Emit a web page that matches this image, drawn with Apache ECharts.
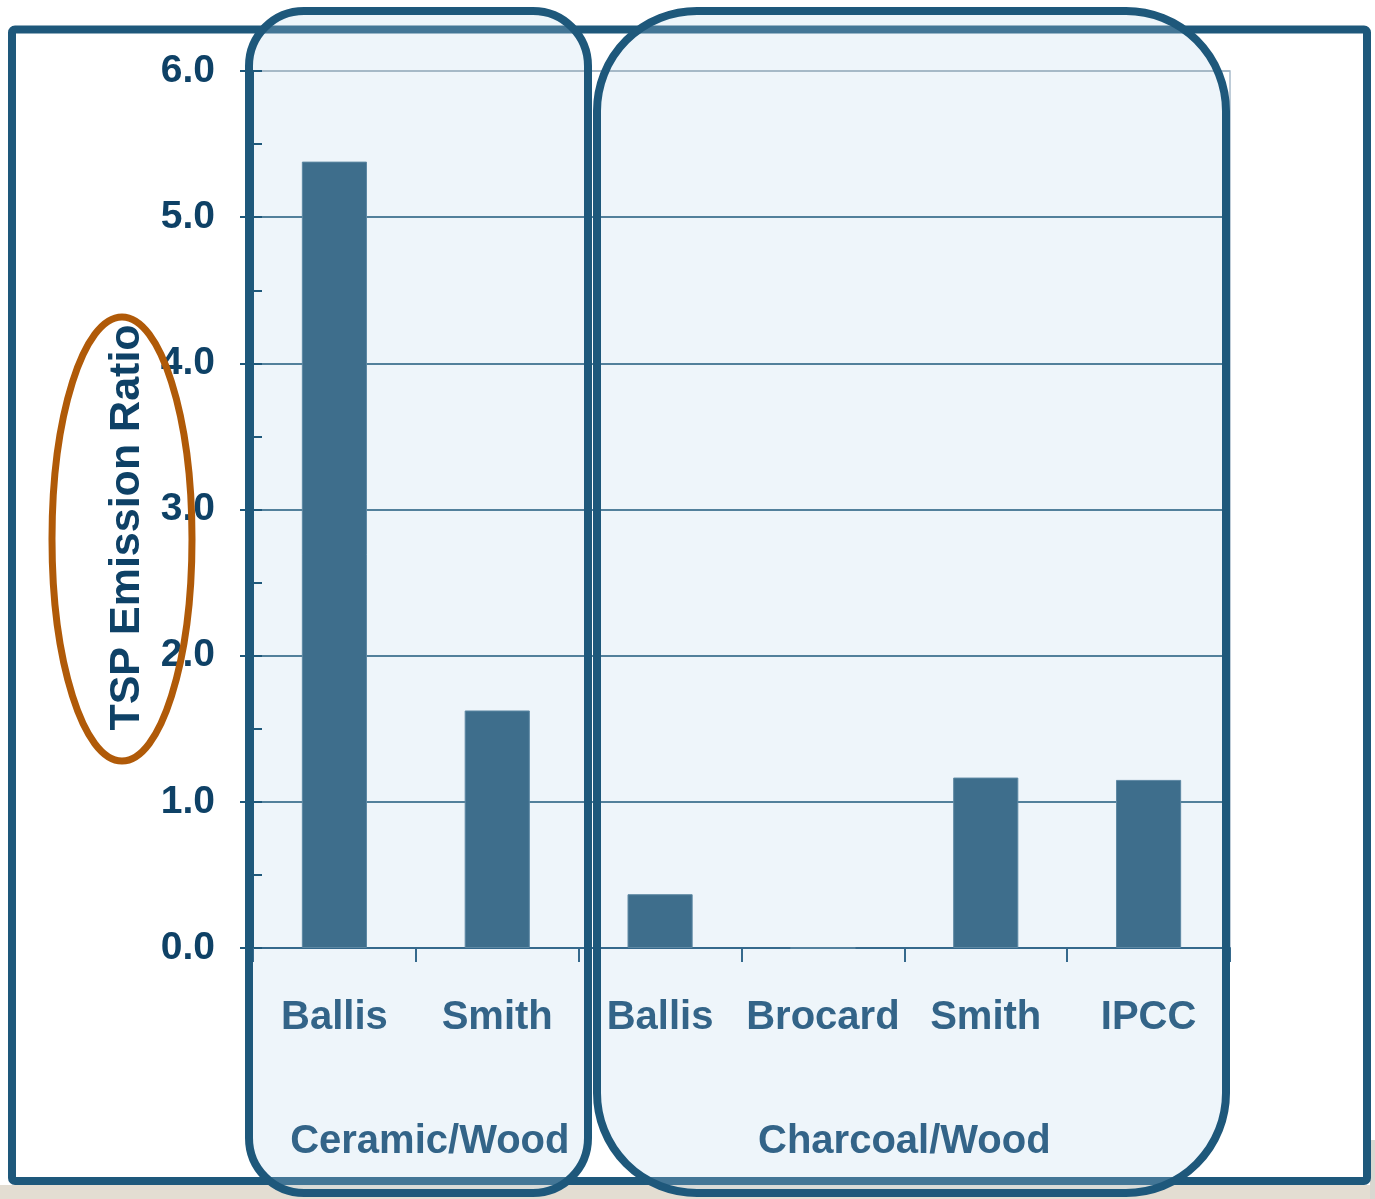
<!DOCTYPE html>
<html>
<head>
<meta charset="utf-8">
<script src="https://cdn.jsdelivr.net/npm/echarts@6/dist/echarts.min.js"></script>
<style>
html,body{margin:0;padding:0;background:#fff;}
#chart{width:1375px;height:1199px;}
</style>
</head>
<body>
<div id="chart"></div>
<script>
// ---- data ----
var categories = ['Ballis', 'Smith', 'Ballis', 'Brocard', 'Smith', 'IPCC'];
var emissionRatio = [5.38, 1.625, 0.368, 0, 1.166, 1.15];
var groupNames = ['Ceramic/Wood', 'Charcoal/Wood'];
var groupRanges = [[0, 1], [2, 5]];
var yTicks = { min: 0, max: 6, interval: 1 };
var yTitle = 'TSP Emission Ratio';

var FONT = '"Liberation Sans", Arial, Helvetica, sans-serif';
var DARK = '#1e587b';

var chart = echarts.init(document.getElementById('chart'), null, { renderer: 'canvas' });

var option = {
  backgroundColor: '#ffffff',
  animation: false,
  grid: {
    left: 253, right: 145, top: 71, bottom: 251,
    show: true, borderColor: '#a9bccb', borderWidth: 1.5, backgroundColor: 'transparent'
  },
  xAxis: {
    type: 'category',
    data: categories,
    axisLine: { lineStyle: { color: '#35698c', width: 2 } },
    axisTick: { show: true, interval: 0, alignWithLabel: false, length: 14, lineStyle: { color: '#35698c', width: 2 } },
    axisLabel: { interval: 0, margin: 50, fontFamily: FONT, fontWeight: 'bold', fontSize: 40, color: '#336488' },
    splitLine: { show: false }
  },
  yAxis: [{
    type: 'value',
    min: yTicks.min, max: yTicks.max, interval: yTicks.interval,
    name: yTitle,
    nameLocation: 'middle',
    nameRotate: 90,
    nameGap: 104,
    nameTextStyle: { fontFamily: FONT, fontWeight: 'bold', fontSize: 43, color: '#0e4166', padding: [0, 36, 0, 0] },
    axisLine: { show: true, lineStyle: { color: DARK, width: 2 } },
    axisTick: { show: true, length: 13, lineStyle: { color: DARK, width: 2 } },
    axisLabel: {
      margin: 38, fontFamily: FONT, fontWeight: 'bold', fontSize: 39, color: '#0e4166',
      formatter: function (v) { return v.toFixed(1); }
    },
    splitLine: {
      show: true,
      lineStyle: { color: [DARK, DARK, DARK, DARK, DARK, DARK, '#9fb3c2'], width: 1.5 }
    }
  }, {
    type: 'value',
    min: yTicks.min, max: yTicks.max, interval: yTicks.interval / 2,
    position: 'left',
    axisLine: { show: false },
    axisTick: { show: true, inside: true, length: 9, lineStyle: { color: DARK, width: 2 } },
    axisLabel: { show: false },
    splitLine: { show: false }
  }],
  series: [{
    type: 'bar',
    data: emissionRatio,
    barWidth: '40%',
    itemStyle: { color: '#3e6e8c', borderColor: '#5d88a3', borderWidth: 1 },
    z: 3
  }],
  graphic: []
};

chart.setOption(option);

// Decorations positioned from the chart's own scale
function px(idx, val) { return chart.convertToPixel({ xAxisIndex: 0, yAxisIndex: 0 }, [idx, val]); }
var bandW = px(1, 0)[0] - px(0, 0)[0];
var groupCenters = groupRanges.map(function (r) {
  return (px(r[0], 0)[0] - bandW / 2 + px(r[1], 0)[0] + bandW / 2) / 2;
});

var graphics = [
  { type: 'rect', z: -20, shape: { x: 0, y: 1185, width: 1375, height: 14 }, style: { fill: '#e3ddd2' } },
  { type: 'rect', z: -20, shape: { x: 1370, y: 1140, width: 5, height: 59 }, style: { fill: '#d9d8d1' } },
  { type: 'rect', z: -15, shape: { x: 12, y: 29.5, width: 1355, height: 1151.5, r: 3 }, style: { fill: 'none', stroke: DARK, lineWidth: 8 } },
  // group panels (fill)
  { type: 'rect', z: -10, shape: { x: 249, y: 11, width: 339, height: 1182, r: 55 }, style: { fill: 'rgba(185,214,234,0.245)' } },
  { type: 'rect', z: -10, shape: { x: 597, y: 11, width: 629, height: 1182, r: 100 }, style: { fill: 'rgba(185,214,234,0.245)' } },
  // group panels (outline)
  { type: 'rect', z: 50, shape: { x: 249, y: 11, width: 339, height: 1182, r: 55 }, style: { fill: 'none', stroke: DARK, lineWidth: 8 } },
  { type: 'rect', z: 50, shape: { x: 597, y: 11, width: 629, height: 1182, r: 100 }, style: { fill: 'none', stroke: DARK, lineWidth: 8 } },
  // highlight ellipse round the y axis title
  { type: 'ellipse', z: 60, shape: { cx: 122, cy: 539, rx: 70, ry: 222 }, style: { fill: 'none', stroke: '#b05a08', lineWidth: 7 } }
];
groupNames.forEach(function (g, i) {
  graphics.push({
    type: 'text', z: 40,
    x: groupCenters[i] + (i === 0 ? 14 : 0), y: 1142,
    style: { text: g, fontFamily: FONT, fontWeight: 'bold', fontSize: 40, fill: '#336488', textAlign: 'center', textVerticalAlign: 'middle' }
  });
});
chart.setOption({ graphic: graphics });
</script>
</body>
</html>
